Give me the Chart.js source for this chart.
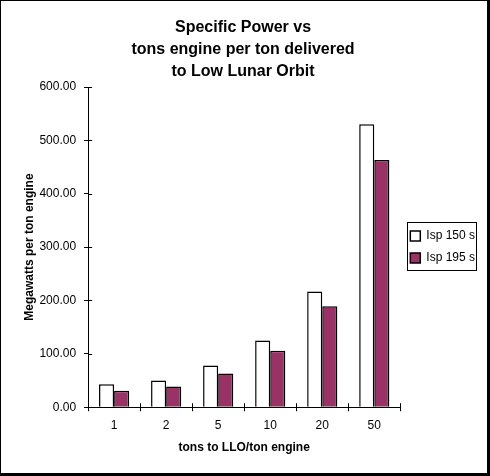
<!DOCTYPE html>
<html>
<head>
<meta charset="utf-8">
<script src="https://cdn.jsdelivr.net/npm/chart.js@4"></script>
<style>
  html, body { margin: 0; padding: 0; background: #fff; }
  #frame {
    width: 490px; height: 476px; box-sizing: border-box;
    border-style: solid; border-color: #000;
    border-width: 1px 3px 3px 1px;
  }
  canvas { display: block; }
</style>
</head>
<body>
<div id="frame"><canvas id="powerChart" width="486" height="472"></canvas></div>
<script>
// Chart data
const categories = ['1', '2', '5', '10', '20', '50'];
const isp150 = [43, 50, 78, 125, 217, 530];
const isp195 = [31, 39, 63, 106, 189, 463];
const yTicks = [0, 100, 200, 300, 400, 500, 600];

const FONT = '"Liberation Sans", Arial, sans-serif';

// Ticks in Excel style cross the axis line, so draw the inner half too
const innerTicks = {
    id: 'innerTicks',
    afterDatasetsDraw(chart) {
        const ctx = chart.ctx;
        const x = chart.scales.x;
        const y = chart.scales.y;
        ctx.save();
        ctx.strokeStyle = '#000';
        ctx.lineWidth = 1;
        ctx.beginPath();
        y.ticks.forEach((t, i) => {
            const py = Math.round(y.getPixelForTick(i)) + 0.5;
            ctx.moveTo(x.left, py);
            ctx.lineTo(x.left + 4, py);
        });
        const n = categories.length;
        for (let i = 0; i <= n; i++) {
            const px = Math.round(x.left + i * (x.right - x.left) / n) + 0.5;
            ctx.moveTo(px, y.bottom);
            ctx.lineTo(px, y.bottom - 4);
        }
        ctx.stroke();
        ctx.restore();
    }
};

// Border around the legend
const legendFrame = {
    id: 'legendFrame',
    afterDraw(chart) {
        const boxes = chart.legend.legendHitBoxes;
        if (!boxes || !boxes.length) return;
        const first = boxes[0];
        const last = boxes[boxes.length - 1];
        const ctx = chart.ctx;
        const left = first.left - 3;
        const right = Math.max(...boxes.map(b => b.left + b.width)) + 1;
        const top = first.top - 8;
        const bottom = last.top + last.height + 6;
        ctx.save();
        ctx.strokeStyle = '#000';
        ctx.lineWidth = 1;
        ctx.strokeRect(Math.round(left) + 0.5, Math.round(top) + 0.5,
            Math.round(right - left), Math.round(bottom - top));
        ctx.restore();
    }
};

const ctx = document.getElementById('powerChart').getContext('2d');
const powerChart = new Chart(ctx, {
    type: 'bar',
    data: {
        labels: categories,
        datasets: [{
            label: 'Isp 150 s',
            data: isp150,
            backgroundColor: '#ffffff',
            borderColor: '#000000',
            borderWidth: 1.5
        }, {
            label: 'Isp 195 s',
            data: isp195,
            backgroundColor: '#993366',
            borderColor: '#000000',
            borderWidth: 1.5
        }]
    },
    options: {
        responsive: false,
        animation: false,
        categoryPercentage: 0.58,
        barPercentage: 1,
        layout: {
            padding: { left: 0, right: 2, top: 0, bottom: 18 }
        },
        plugins: {
            title: {
                display: true,
                text: ['Specific Power vs', 'tons engine per ton delivered', 'to Low Lunar Orbit'],
                color: '#000',
                font: { family: FONT, size: 16, weight: 'bold', lineHeight: 22 / 16 },
                padding: { top: 16, bottom: 4 }
            },
            legend: {
                position: 'right',
                fullSize: false,
                labels: {
                    color: '#000',
                    font: { family: FONT, size: 12 },
                    boxWidth: 10,
                    boxHeight: 10,
                    padding: 10
                }
            },
            tooltip: { enabled: false }
        },
        scales: {
            x: {
                grid: {
                    drawOnChartArea: false,
                    color: '#000',
                    tickLength: 4,
                    offset: true
                },
                border: { color: '#000', width: 1 },
                ticks: {
                    color: '#000',
                    font: { family: FONT, size: 12 },
                    padding: 7,
                    maxRotation: 0
                },
                title: {
                    display: true,
                    text: 'tons to LLO/ton engine',
                    color: '#000',
                    font: { family: FONT, size: 12, weight: 'bold' },
                    padding: { top: 1, bottom: 0 }
                }
            },
            y: {
                min: yTicks[0],
                max: yTicks[yTicks.length - 1],
                afterBuildTicks(scale) {
                    scale.ticks = yTicks.map(v => ({ value: v }));
                },
                grid: {
                    drawOnChartArea: false,
                    color: '#000',
                    tickLength: 4
                },
                border: { color: '#000', width: 1 },
                ticks: {
                    color: '#000',
                    font: { family: FONT, size: 12 },
                    padding: 8,
                    callback: v => Number(v).toFixed(2)
                },
                title: {
                    display: true,
                    text: 'Megawatts per ton engine',
                    color: '#000',
                    font: { family: FONT, size: 12, weight: 'bold' },
                    padding: { top: 21, bottom: -5 }
                }
            }
        }
    },
    plugins: [innerTicks, legendFrame]
});
</script>
</body>
</html>
